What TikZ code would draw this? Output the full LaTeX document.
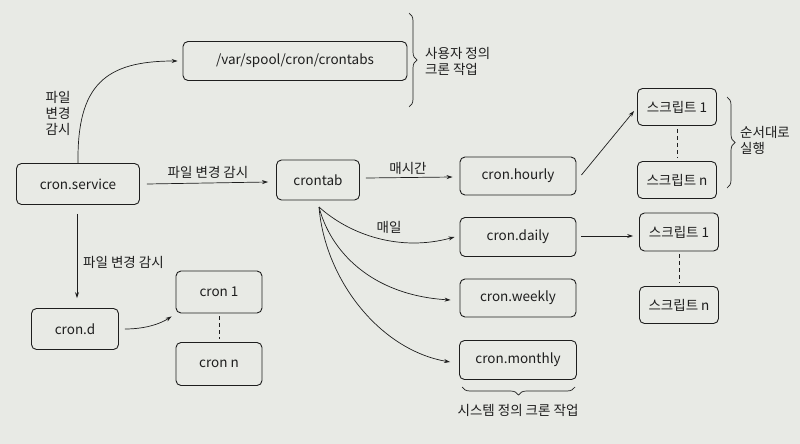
\documentclass[tikz,border=0pt]{standalone}
\usepackage{fontspec}
\setmainfont{Noto Sans CJK KR}
\usetikzlibrary{arrows.meta,decorations.pathreplacing}
\definecolor{paper}{RGB}{232,234,229}
\definecolor{ink}{RGB}{30,30,30}
\tikzset{
  box/.style={draw=ink, line width=0.9pt, rounded corners=5pt, inner sep=0pt, font=\fontsize{13.5}{15}\selectfont, text=ink},
  lbl/.style={font=\fontsize{13.5}{16}\selectfont, text=ink, inner sep=0pt},
  arr/.style={draw=ink, line width=0.7pt, -{Stealth[length=6pt,width=4pt]}},
  dashln/.style={draw=ink, line width=0.7pt, dash pattern=on 4pt off 3pt},
  brc/.style={draw=ink, line width=0.7pt, decorate, decoration={brace, amplitude=8pt}},
}
\begin{document}
\begin{tikzpicture}[x=1pt,y=-1pt]
\fill[paper] (0,0) rectangle (800,444);
\useasboundingbox (0,0) rectangle (800,444);

% nodes
\node[box, minimum width=224pt, minimum height=39pt] (var) at (295,61) {/var/spool/cron/crontabs};
\node[box, minimum width=123pt, minimum height=41pt] (svc) at (78,184) {cron.service};
\node[box, minimum width=83pt, minimum height=40pt] (tab) at (318,180) {crontab};
\node[box, minimum width=116pt, minimum height=38pt] (hr) at (518,176) {cron.hourly};
\node[box, minimum width=116pt, minimum height=39pt] (dy) at (518,237) {cron.daily};
\node[box, minimum width=116pt, minimum height=38pt] (wk) at (518,298) {cron.weekly};
\node[box, minimum width=117pt, minimum height=39pt] (mo) at (518,360) {cron.monthly};
\node[box, minimum width=79pt, minimum height=37pt] (sa1) at (677,107) {스크립트 1};
\node[box, minimum width=79pt, minimum height=37pt] (san) at (677,180) {스크립트 n};
\node[box, minimum width=79pt, minimum height=38pt] (sb1) at (679,232) {스크립트 1};
\node[box, minimum width=79pt, minimum height=37pt] (sbn) at (679,305) {스크립트 n};
\node[box, minimum width=87pt, minimum height=41pt] (cd) at (75,329) {cron.d};
\node[box, minimum width=86pt, minimum height=42pt] (c1) at (219,292) {cron 1};
\node[box, minimum width=86pt, minimum height=43pt] (cn) at (219,364) {cron n};

% labels
\node[lbl, align=center] (l1) at (58,113) {파일\\변경\\감시};
\node[lbl] (l2) at (208,172) {파일 변경 감시};
\node[lbl, anchor=west] (l3) at (83,262) {파일 변경 감시};
\node[lbl] (l4) at (408,168) {매시간};
\node[lbl] (l5) at (389,227) {매일};
\node[lbl, align=left, anchor=west] (l6) at (425,61) {사용자 정의\\크론 작업};
\node[lbl, align=left, anchor=west] (l7) at (740,140) {순서대로\\실행};
\node[lbl] (l8) at (518,410) {시스템 정의 크론 작업};

% braces
\draw[brc] (409,13) -- (409,107);
\draw[brc] (727,97) -- (727,188);
\draw[brc] (575,387) -- (462,387);

% connectors
\coordinate (tabs) at (319,207);
\draw[arr] (svc.north) .. controls (77,85) and (105,61) .. ([xshift=-5pt]var.west);
\draw[arr] ([xshift=7pt]svc.east) -- ([xshift=-8pt,yshift=-2pt]tab.west);
\draw[arr] ([xshift=-1pt,yshift=-9pt]svc.south) -- ([xshift=2pt,yshift=10pt]cd.north);
\draw[arr] ([xshift=6pt]cd.east) .. controls (145,329) and (160,324) .. ([xshift=-4pt,yshift=-3pt]c1.south west);
\draw[arr] ([xshift=6pt,yshift=2pt]tab.east) -- ([xshift=-7pt,yshift=-1pt]hr.west);
\draw[arr] (tabs) .. controls (350,235) and (400,252) .. ([xshift=-5pt]dy.west);
\draw[arr] (tabs) .. controls (330,250) and (370,295) .. ([xshift=-9pt,yshift=-2pt]wk.west);
\draw[arr] (tabs) .. controls (325,280) and (380,350) .. ([xshift=-9pt,yshift=-2pt]mo.west);
\draw[arr] ([xshift=5pt,yshift=1pt]hr.east) -- ([xshift=-3pt,yshift=-4pt]sa1.west);
\draw[arr] ([xshift=5pt,yshift=1pt]dy.east) -- ([xshift=-6pt,yshift=-4pt]sb1.west);
\draw[dashln] ([yshift=-3pt]sa1.south) -- ([yshift=3pt]san.north);
\draw[dashln] ([yshift=-3pt]sb1.south) -- ([yshift=3pt]sbn.north);
\draw[dashln] ([yshift=-3pt]c1.south) -- ([yshift=3pt]cn.north);
\end{tikzpicture}
\end{document}
